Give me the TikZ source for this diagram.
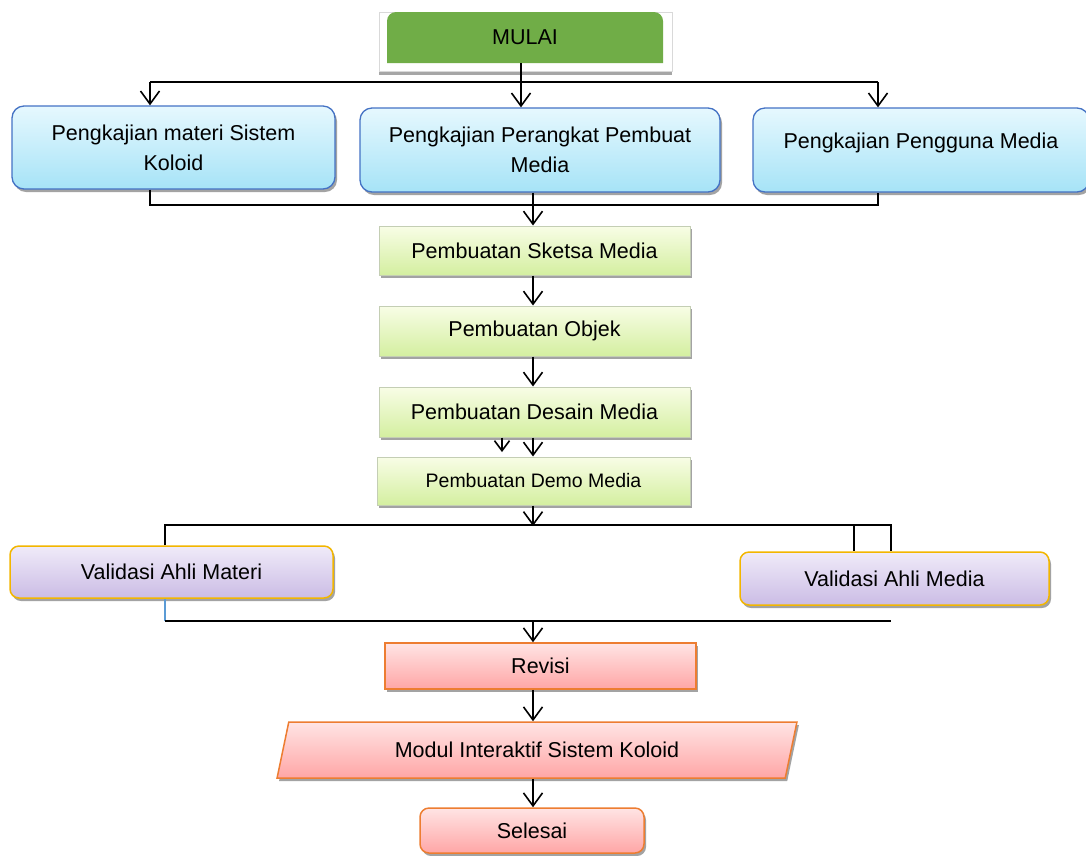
\documentclass[tikz,border=0pt]{standalone}
\usepackage{fontspec}
\setmainfont{Liberation Sans}
\usetikzlibrary{shadows,arrows.meta,shapes.geometric}
\definecolor{mgreen}{RGB}{112,173,71}
\definecolor{bborder}{RGB}{68,114,196}
\definecolor{btop}{RGB}{230,248,254}
\definecolor{bbot}{RGB}{166,227,247}
\definecolor{gtop}{RGB}{248,253,230}
\definecolor{gbot}{RGB}{212,239,160}
\definecolor{gborder}{RGB}{196,206,180}
\definecolor{ptop}{RGB}{240,235,249}
\definecolor{pbot}{RGB}{203,188,229}
\definecolor{pborder}{RGB}{242,182,0}
\definecolor{rtop}{RGB}{255,228,228}
\definecolor{rbot}{RGB}{255,166,166}
\definecolor{rborder}{RGB}{237,125,49}
\definecolor{lblue}{RGB}{91,155,213}
\tikzset{
  txt/.style={font=\fontsize{21.5}{30}\selectfont, align=center, inner sep=0pt},
  shad/.style={drop shadow={shadow xshift=2pt, shadow yshift=-3pt, fill=black!45, opacity=0.8}},
  bluebox/.style={txt, shad, rectangle, rounded corners=12pt, draw=bborder, line width=1.3pt, top color=btop, bottom color=bbot},
  greenbox/.style={txt, shad, rectangle, draw=gborder, line width=1pt, top color=gtop, bottom color=gbot},
  purplebox/.style={txt, shad, rectangle, rounded corners=9pt, draw=pborder, line width=1.5pt, top color=ptop, bottom color=pbot},
  redbox/.style={txt, shad, rectangle, draw=rborder, line width=1.5pt, top color=rtop, bottom color=rbot},
  conn/.style={line width=1.6pt, black},
  arr/.style={conn, -{Straight Barb[length=13pt,width=19pt,line width=1.6pt]}},
}
\begin{document}
\begin{tikzpicture}[x=1pt,y=-1pt]
\useasboundingbox (0,0) rectangle (1086,855);
% MULAI background
\fill[black!35] (379,70) rectangle (672,75);
\draw[white!85!black, fill=white, line width=0.6pt] (379,12) rectangle (672,71);
\fill[mgreen] (387,63) [rounded corners=9pt] -- (387,12) -- (663,12) [sharp corners] -- (663,63) -- cycle;
\node[txt, minimum width=276pt, minimum height=51pt] (mulai) at (525,37.5) {MULAI};

% row 1
\node[bluebox, minimum width=323pt, minimum height=83pt] (b1) at (173.5,147.5) {Pengkajian materi Sistem\\Koloid};
\node[bluebox, minimum width=360pt, minimum height=84pt] (b2) at (540,150) {Pengkajian Perangkat Pembuat\\Media};
\node[bluebox, minimum width=336pt, minimum height=84pt] (b3) at (921,150) {\raisebox{18pt}{Pengkajian Pengguna Media}};

\coordinate (tl) at (150,82);
\coordinate (tm) at (521,82);
\coordinate (tr) at (878,82);
\draw[conn] (tl) -- (tr);
\draw[arr] (mulai.south -| tm) -- (b2.north -| tm);
\draw[arr] (tl) -- (b1.north -| tl);
\draw[arr] (tr) -- (b3.north -| tr);

% merge
\coordinate (ml) at (150,205);
\coordinate (mr) at (878,205);
\draw[conn] (b1.south -| ml) -- (ml) -- (mr) -- (b3.south -| mr);

\node[greenbox, minimum width=311pt, minimum height=49pt] (sk) at (534.5,250.5) {Pembuatan Sketsa Media};
\node[greenbox, minimum width=311pt, minimum height=50pt] (ob) at (534.5,331) {Pembuatan Objek};
\node[greenbox, minimum width=311pt, minimum height=50pt] (de) at (534.5,412) {Pembuatan Desain Media};
\node[greenbox, minimum width=313pt, minimum height=48pt, font=\fontsize{19.5}{24}\selectfont] (dm) at (533.5,481) {Pembuatan Demo Media};

\coordinate (ax) at (533,205);
\draw[arr] (b2.south -| ax) -- (sk.north -| ax);
\draw[arr] (sk.south -| ax) -- (ob.north -| ax);
\draw[arr] (ob.south -| ax) -- (de.north -| ax);
\draw[arr] (de.south -| ax) -- (dm.north -| ax);
\coordinate (ax2) at (502,452);
\draw[conn, -{Straight Barb[length=10pt,width=15pt,line width=1.6pt]}] (de.south -| ax2) -- (ax2);

% validation
\node[purplebox, minimum width=323pt, minimum height=52pt] (vm) at (171.5,572) {Validasi Ahli Materi};
\node[purplebox, minimum width=309pt, minimum height=53pt] (vd) at (894.5,578.5) {Validasi Ahli Media};

\coordinate (vtl) at (165,525);
\coordinate (vtm) at (533,525);
\coordinate (vtr1) at (854,525);
\coordinate (vtr2) at (891,525);
\draw[arr] (dm.south -| vtm) -- ([yshift=-1pt]vtm);
\draw[conn] (vm.north -| vtl) -- (vtl) -- (vtr2) -- (vd.north -| vtr2);
\draw[conn] (vtr1) -- (vd.north -| vtr1);

\coordinate (vbl) at (165,621);
\coordinate (vbr) at (891,621);
\coordinate (vbm) at (533,621);
\draw[lblue, line width=1.2pt] (vm.south -| vbl) -- (vbl);
\draw[conn] (vbl) -- (vbr);

\node[redbox, minimum width=311pt, minimum height=46pt] (rv) at (540.5,666) {Revisi};
\draw[arr] (vbm) -- (rv.north -| vbm);

\node[txt, shad, trapezium, trapezium left angle=67, trapezium right angle=113, trapezium stretches=true, minimum width=520pt, minimum height=56pt, draw=rborder, line width=1.5pt, top color=rtop, bottom color=rbot] (md) at (537,750) {Modul Interaktif Sistem Koloid};
\draw[arr] (rv.south -| vbm) -- (md.north -| vbm);

\node[redbox, rounded corners=9pt, minimum width=224pt, minimum height=45pt] (se) at (532,830.5) {Selesai};
\draw[arr] (md.south -| vbm) -- (se.north -| vbm);
\end{tikzpicture}
\end{document}
